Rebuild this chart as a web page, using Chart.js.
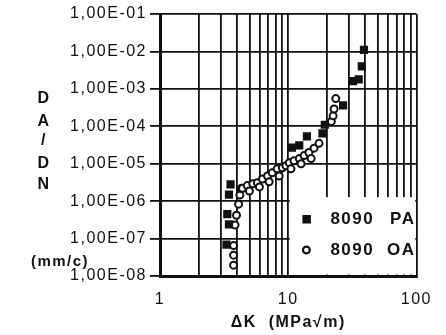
<!DOCTYPE html>
<html>
<head>
<meta charset="utf-8">
<script src="https://cdn.jsdelivr.net/npm/chart.js@4.4.0/dist/chart.umd.min.js"></script>
<style>
  html, body { margin: 0; padding: 0; background: #fff; }
  #wrap { width: 446px; height: 335px; }
</style>
</head>
<body>
<div id="wrap"><canvas id="chart" width="446" height="335"></canvas></div>
<script>
// 8090 alloy, PA temper (filled squares)
const paK = [3.55, 3.45, 3.35, 3.45, 3.3, 10.7, 12.2, 14.0, 18.5, 19.3, 26.8, 32.0, 35.5, 37.5, 39.0];
const paRate = [2.8e-6, 1.5e-6, 4.5e-7, 2.4e-7, 6.9e-8, 2.7e-5, 3.1e-5, 5.4e-5, 6.5e-5, 1.1e-4, 3.6e-4, 1.6e-3, 1.8e-3, 4.0e-3, 1.1e-2];

// 8090 alloy, OA temper (open circles)
const oaK = [3.75, 3.75, 3.75, 3.85, 3.95, 4.1, 4.2, 4.3,
  4.4, 4.8, 5.3, 5.75, 6.3, 6.9, 7.5, 8.2, 9.0, 9.6, 10.2, 11.1, 12.2, 13.3, 14.5, 15.9, 17.4,
  4.98, 5.96, 7.1, 8.5, 10.5, 12.6, 15.1,
  21.7, 22.4, 22.8, 23.5];
const oaRate = [1.95e-8, 3.6e-8, 6.5e-8, 2.3e-7, 4.2e-7, 8.3e-7, 1.45e-6, 2.2e-6,
  2.2e-6, 2.6e-6, 2.9e-6, 3.1e-6, 3.9e-6, 4.7e-6, 5.7e-6, 7.3e-6, 7.8e-6, 8.8e-6, 1.06e-5, 1.2e-5, 1.37e-5, 1.65e-5, 2.0e-5, 2.6e-5, 3.5e-5,
  1.86e-6, 2.4e-6, 3.3e-6, 4.7e-6, 7.3e-6, 1.0e-5, 1.37e-5,
  1.35e-4, 1.9e-4, 2.9e-4, 5.5e-4];

const seriesNames = ['8090', '8090'];
const seriesTags = ['PA', 'OA'];

const xTicks = [1, 10, 100];
const xTickLabels = ['1', '10', '100'];
const yTicks = [1e-8, 1e-7, 1e-6, 1e-5, 1e-4, 1e-3, 1e-2, 1e-1];
const yTickLabels = ['1,00E-08', '1,00E-07', '1,00E-06', '1,00E-05', '1,00E-04', '1,00E-03', '1,00E-02', '1,00E-01'];

const yTitleLetters = ['D', 'A', '/', 'D', 'N'];
const yUnit = '(mm/c)';
const xTitle = '\u0394K  (MPa\u221Am)';

const ink = '#111';
const FONT = 'Arial, "Liberation Sans", sans-serif';

function toPoints(xs, ys) {
  return xs.map((x, i) => ({ x: x, y: ys[i] }));
}

function sameValue(a, b) {
  return Math.abs(Math.log10(a) - Math.log10(b)) < 1e-6;
}

const spacing = {
  id: 'spacing',
  beforeUpdate(chart) { chart.ctx.letterSpacing = '1.5px'; },
  beforeDraw(chart) { chart.ctx.letterSpacing = '1.5px'; }
};

const extras = {
  id: 'extras',
  beforeDatasetsDraw(chart) {
    const { ctx, chartArea, scales } = chart;
    const left = scales.x.getPixelForValue(10) + 1.5;
    const top = scales.y.getPixelForValue(1e-6) - 4;
    ctx.save();
    ctx.fillStyle = '#fff';
    ctx.fillRect(left, top, chartArea.right - 1.2 - left, chartArea.bottom - 1.5 - top);
    ctx.restore();
  },
  afterDraw(chart) {
    const { ctx, chartArea } = chart;
    ctx.save();
    ctx.fillStyle = ink;
    ctx.strokeStyle = ink;

    // legend inside the plot
    const mx = chartArea.right - 110;
    const rows = [chartArea.bottom - 57, chartArea.bottom - 26];
    ctx.fillRect(mx - 4, rows[0] - 4, 8.5, 8.5);
    ctx.beginPath();
    ctx.lineWidth = 2.2;
    ctx.arc(mx, rows[1], 3.4, 0, Math.PI * 2);
    ctx.fillStyle = '#fff';
    ctx.fill();
    ctx.stroke();
    ctx.fillStyle = ink;
    ctx.font = 'bold 17px ' + FONT;
    ctx.textBaseline = 'middle';
    rows.forEach((y, i) => {
      ctx.textAlign = 'left';
      ctx.fillText(seriesNames[i], chartArea.right - 86, y);
      ctx.textAlign = 'right';
      ctx.fillText(seriesTags[i], chartArea.right - 1, y);
    });

    // stacked y title and unit
    ctx.font = 'bold 16px ' + FONT;
    ctx.textAlign = 'center';
    const letterY = [99, 122, 141, 164, 185];
    yTitleLetters.forEach((t, i) => ctx.fillText(t, 44, letterY[i]));
    ctx.font = 'bold 15px ' + FONT;
    ctx.fillText(yUnit, 60, 262);
    ctx.restore();
  }
};

new Chart(document.getElementById('chart'), {
  type: 'scatter',
  data: {
    datasets: [
      {
        label: '8090 PA',
        data: toPoints(paK, paRate),
        pointStyle: 'rect',
        pointRadius: 5.8,
        backgroundColor: ink,
        borderColor: ink,
        borderWidth: 0
      },
      {
        label: '8090 OA',
        data: toPoints(oaK, oaRate),
        pointStyle: 'circle',
        pointRadius: 3.5,
        backgroundColor: '#fff',
        borderColor: ink,
        borderWidth: 2
      }
    ]
  },
  options: {
    responsive: false,
    animation: false,
    layout: { padding: { top: 14, right: 27, bottom: 0, left: 0 } },
    plugins: {
      legend: { display: false },
      tooltip: { enabled: false }
    },
    scales: {
      x: {
        type: 'logarithmic',
        min: 1,
        max: 100,
        afterBuildTicks(scale) {
          const t = [];
          for (let d = 1; d < 100; d *= 10) {
            for (let m = 1; m < 10; m++) t.push({ value: m * d });
          }
          t.push({ value: 100 });
          scale.ticks = t;
        },
        afterFit(scale) { scale.height = 59; },
        ticks: {
          autoSkip: false,
          maxRotation: 0,
          padding: 14,
          color: ink,
          font: { family: FONT, size: 16 },
          callback(value) {
            const i = xTicks.findIndex(v => sameValue(v, value));
            return i >= 0 ? xTickLabels[i] : '';
          }
        },
        grid: { color: ink, lineWidth: 1.8, drawTicks: false },
        border: { color: ink, width: 3 },
        title: {
          display: true,
          text: xTitle,
          color: ink,
          font: { family: FONT, size: 16, weight: 'bold' },
          padding: { top: 0, bottom: 3 }
        }
      },
      y: {
        type: 'logarithmic',
        min: 1e-8,
        max: 1e-1,
        afterBuildTicks(scale) {
          scale.ticks = yTicks.map(v => ({ value: v }));
        },
        afterFit(scale) { scale.width = 160; },
        ticks: {
          autoSkip: false,
          padding: 3,
          color: ink,
          font: { family: FONT, size: 16 },
          callback(value) {
            const i = yTicks.findIndex(v => sameValue(v, value));
            return i >= 0 ? yTickLabels[i] : '';
          }
        },
        grid: { color: ink, lineWidth: 1.8, tickLength: 10 },
        border: { color: ink, width: 3 }
      }
    }
  },
  plugins: [spacing, extras]
});
</script>
</body>
</html>
